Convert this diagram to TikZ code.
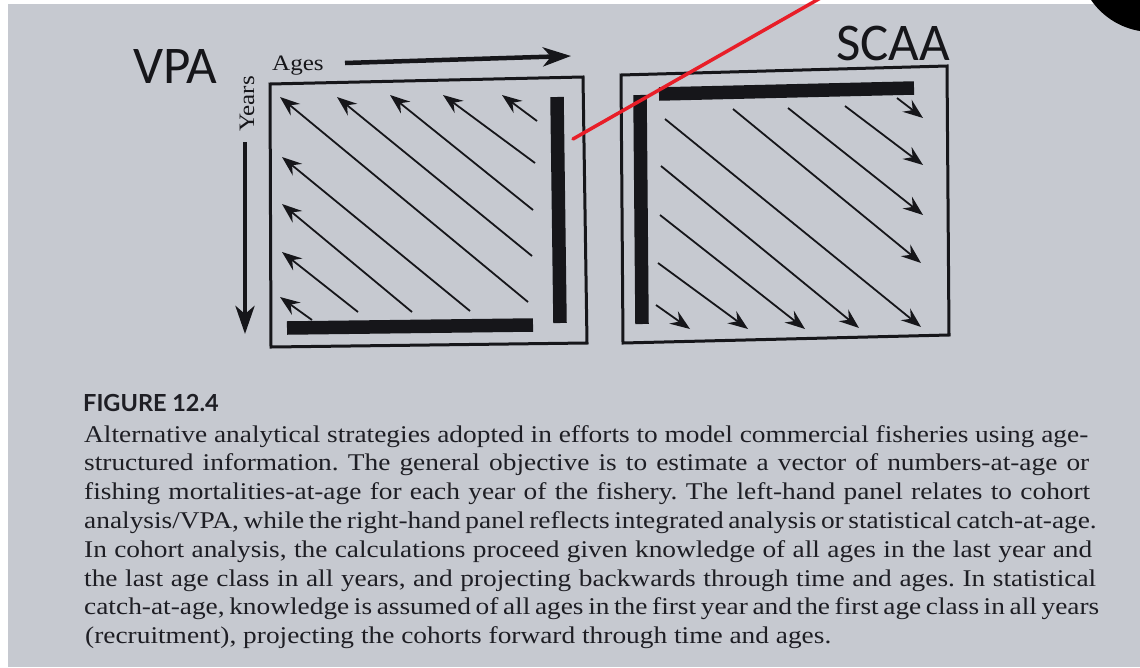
\documentclass[tikz,border=0pt]{standalone}
\usepackage{fontspec}
\setmainfont{Liberation Serif}
\newfontfamily\bodyfont[FakeStretch=1.14]{Liberation Serif}
\newfontfamily\labfont{Carlito}
\newfontfamily\capfont{Lato}
\usetikzlibrary{arrows.meta,calc}
\definecolor{page}{RGB}{198,201,208}
\definecolor{ink}{RGB}{22,22,26}
\definecolor{txt}{RGB}{30,30,36}
\definecolor{annot}{RGB}{232,30,40}
\tikzset{
  boxline/.style={draw=ink, line width=3pt, line join=miter},
  bar/.style={draw=ink, line width=13.5pt},
  cohort/.style={draw=ink, line width=1.8pt, -{Stealth[length=20pt,width=15pt,inset=7pt]}},
  axisarrow/.style={draw=ink, line width=4.5pt, -{Stealth[length=28pt,width=19pt,inset=8pt]}},
  biglabel/.style={inner sep=0pt, text=ink, font=\labfont\fontsize{53}{60}\selectfont},
  axislabel/.style={inner sep=0pt, text=ink, font=\bodyfont\fontsize{22}{28}\selectfont},
  captext/.style={inner sep=0pt, anchor=base west, text=txt, font=\bodyfont\frenchspacing\fontsize{24}{28.8}\selectfont},
  caphead/.style={inner sep=0pt, anchor=base west, text=txt, font=\capfont\bfseries\fontsize{23.5}{26}\selectfont},
  annotline/.style={draw=annot, line width=3.5pt, line cap=round},
}
\begin{document}
\begin{tikzpicture}[x=1pt,y=-1pt]
\useasboundingbox (0,0) rectangle (1140,667);
\clip (0,0) rectangle (1140,667);
\fill[white] (0,0) rectangle (1140,667);
\fill[page] (8,4) rectangle (1140,667);

% ---------- labels ----------
\node[biglabel, anchor=base west] (vpa) at (133,83) {VPA};
\node[biglabel, anchor=base west] (scaa) at (836,60) {SCAA};
\node[axislabel, anchor=base west] (ages) at (272,70) {Ages};
\node[axislabel, rotate=90] (years) at (247,104) {Years};

% axis arrows
\coordinate (agesA) at (345,63);
\coordinate (agesB) at (571,56);
\draw[axisarrow] (agesA) -- (agesB);
\coordinate (yearsA) at (245,142);
\coordinate (yearsB) at (245,334);
\draw[axisarrow] (yearsA) -- (yearsB);

% ---------- VPA panel ----------
\draw[boxline] (270,84) -- (583,77) -- (587,343) -- (271,347) -- cycle;
\draw[bar] (557,97) -- (560,323);
\draw[bar] (287,328) -- (533,325);
% top row (pointing up-left)
\draw[cohort] (528,302) -- (280,97);
\draw[cohort] (532,256) -- (337,97);
\draw[cohort] (533,210) -- (390,95);
\draw[cohort] (535,163) -- (443,95);
\draw[cohort] (537,121) -- (502,95);
% left column
\draw[cohort] (470,311) -- (282,157);
\draw[cohort] (412,312) -- (282,204);
\draw[cohort] (358,312) -- (282,252);
\draw[cohort] (312,320) -- (280,297);

% ---------- SCAA panel ----------
\draw[boxline] (621,75) -- (947,66) -- (949,335) -- (623,343) -- cycle;
\draw[bar] (659,94) -- (914,88);
\draw[bar] (640,95) -- (642,324);
% right column heads
\draw[cohort] (897,98) -- (923,118);
\draw[cohort] (845,106) -- (923,165);
\draw[cohort] (788,108) -- (923,215);
\draw[cohort] (733,109) -- (921,263);
\draw[cohort] (665,119) -- (921,327);
% bottom row heads
\draw[cohort] (661,166) -- (859,328);
\draw[cohort] (660,215) -- (805,329);
\draw[cohort] (658,263) -- (748,329);
\draw[cohort] (656,305) -- (690,329);

% ---------- caption ----------
\node[caphead] (fig) at (83,411) {FIGURE 12.4};
\node[captext] (c1) at (84,442) {\makebox[1004pt][s]{Alternative analytical strategies adopted in efforts to model commercial fisheries using age-}};
\node[captext] (c2) at (84,470.8) {\makebox[1005pt][s]{structured information. The general objective is to estimate a vector of numbers-at-age or}};
\node[captext] (c3) at (84,499.6) {\makebox[1006pt][s]{fishing mortalities-at-age for each year of the fishery. The left-hand panel relates to cohort}};
\node[captext] (c4) at (84,528.4) {\makebox[1007pt][s]{analysis/VPA, while the right-hand panel reflects integrated analysis or statistical catch-at-age.}};
\node[captext] (c5) at (84,557.2) {\makebox[1008pt][s]{In cohort analysis, the calculations proceed given knowledge of all ages in the last year and}};
\node[captext] (c6) at (84,586) {\makebox[1012pt][s]{the last age class in all years, and projecting backwards through time and ages. In statistical}};
\node[captext] (c7) at (84,614.8) {\makebox[1015pt][s]{catch-at-age, knowledge is assumed of all ages in the first year and the first age class in all years}};
\node[captext] (c8) at (85,643.6) {(recruitment), projecting the cohorts forward through time and ages.};

% ---------- annotations ----------
\coordinate (redA) at (573,139);
\coordinate (redB) at (817,0);
\draw[annotline] (redA) -- ($(redA)!1.05!(redB)$);
\fill[black] (1152,-42) circle[radius=74];
\end{tikzpicture}
\end{document}
